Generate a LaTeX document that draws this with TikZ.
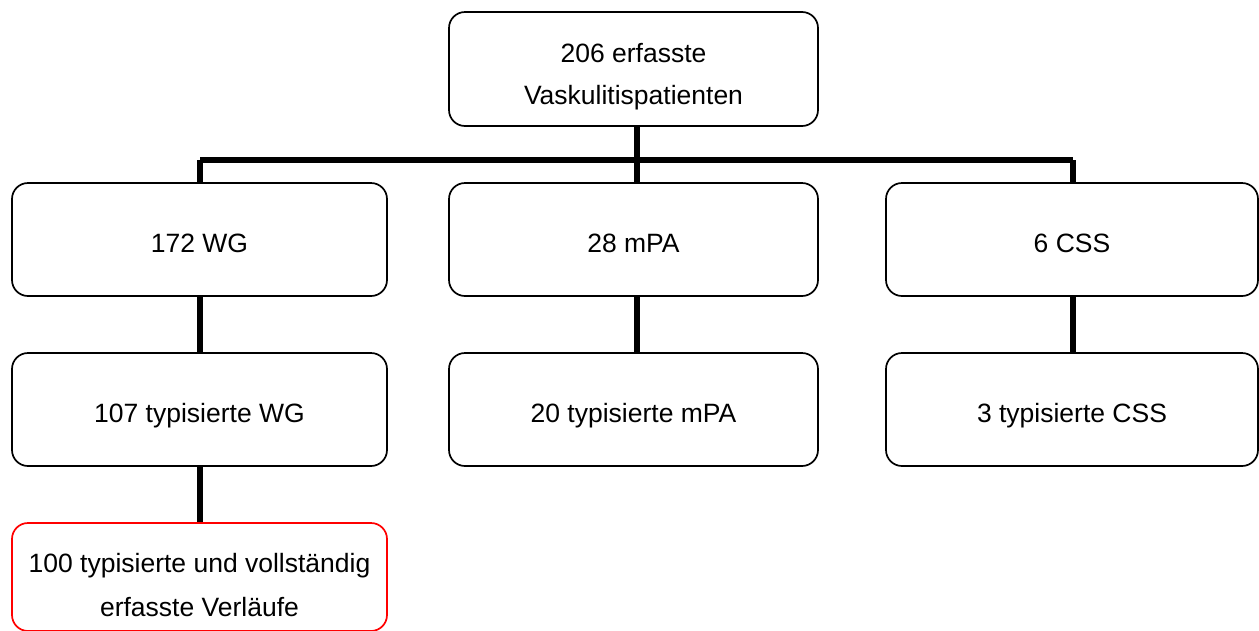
\documentclass[tikz,border=0pt]{standalone}
\usepackage{fontspec}
\setmainfont{Liberation Sans}
\begin{document}
\begin{tikzpicture}[x=1pt,y=-1pt,
  box/.style={draw=black, line width=1.7pt, rounded corners=16pt, fill=white,
    align=center, inner sep=0pt, text height=26pt, text depth=0pt,
    font=\fontsize{26.5}{32}\selectfont},
  redbox/.style={box, draw=red},
  txt/.style={align=center, inner sep=0pt},
  conn/.style={line width=6pt, black}]
\useasboundingbox (0,0) rectangle (1259,630);
\begin{scope}
\clip (0,0) rectangle (1259,630);
\coordinate (barL) at (200,160);
\coordinate (barR) at (1073,160);
\coordinate (barM) at (637,160);
\node[box, minimum width=369pt, minimum height=114pt] (top) at (633.5,69) {};
\node[txt, font=\fontsize{26.5}{42}\selectfont] (toptext) at (633.5,76.5) {206 erfasste\\Vaskulitispatienten};
\node[box, minimum width=375pt, minimum height=113pt] (wg) at (199.5,239.5) {172 WG};
\node[box, minimum width=369pt, minimum height=113pt] (mpa) at (633.5,239.5) {28 mPA};
\node[box, minimum width=372pt, minimum height=113pt] (css) at (1072,239.5) {6 CSS};
\node[box, minimum width=375pt, minimum height=113pt] (twg) at (199.5,409.5) {107 typisierte WG};
\node[box, minimum width=369pt, minimum height=113pt] (tmpa) at (633.5,409.5) {20 typisierte mPA};
\node[box, minimum width=372pt, minimum height=113pt] (tcss) at (1072,409.5) {3 typisierte CSS};
\node[redbox, minimum width=375pt, minimum height=108pt] (full) at (199.5,577) {};
\node[txt, font=\fontsize{26.5}{44}\selectfont] (fulltext) at (199.5,585) {100 typisierte und vollständig\\erfasste Verläufe};
\draw[conn] (barL) -- (barR);
\draw[conn] (top.south -| barM) -- (mpa.north -| barM);
\draw[conn] (barL) -- (wg.north -| barL);
\draw[conn] (barR) -- (css.north -| barR);
\draw[conn] (wg.south -| barL) -- (twg.north -| barL);
\draw[conn] (mpa.south -| barM) -- (tmpa.north -| barM);
\draw[conn] (css.south -| barR) -- (tcss.north -| barR);
\draw[conn] (twg.south -| barL) -- (full.north -| barL);
\end{scope}
\end{tikzpicture}
\end{document}
